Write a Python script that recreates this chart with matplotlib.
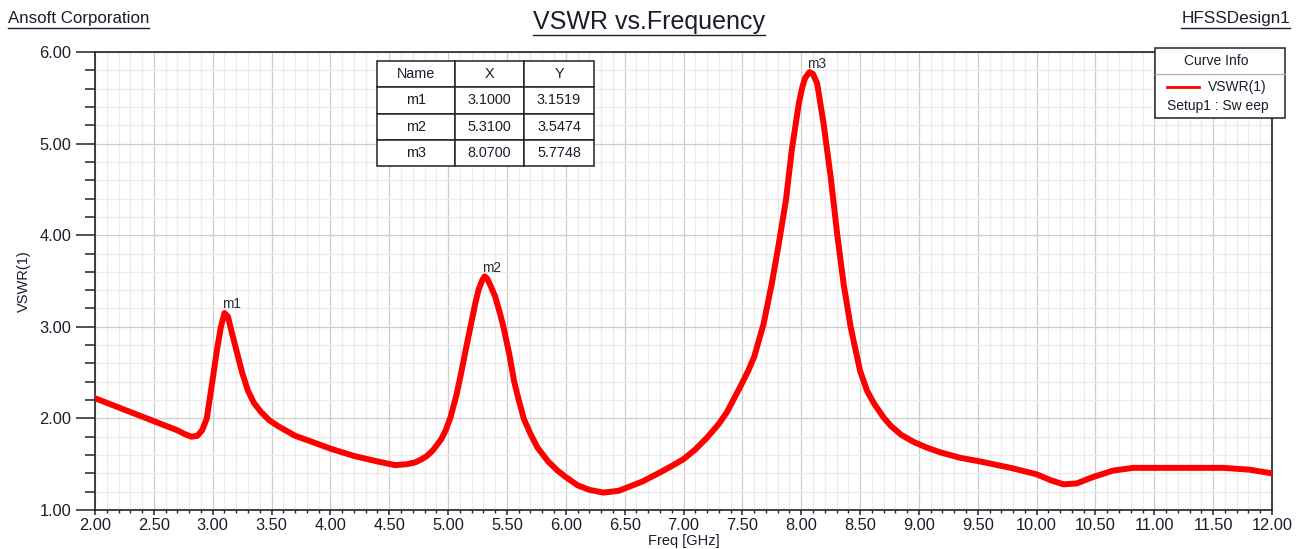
import matplotlib
matplotlib.use("Agg")
import matplotlib.pyplot as plt
from matplotlib.ticker import MultipleLocator, FormatStrFormatter
from matplotlib.patches import Rectangle
from matplotlib.lines import Line2D

plt.rcParams['font.family'] = ['Liberation Sans', 'DejaVu Sans']

# ---- data ----
freq = [2.00, 2.20, 2.40, 2.60, 2.70, 2.76, 2.82, 2.87, 2.91, 2.95, 3.00, 3.04, 3.07, 3.10,
        3.13, 3.16, 3.21, 3.25, 3.30, 3.35, 3.41, 3.48, 3.55, 3.70, 3.81, 4.00, 4.20, 4.40,
        4.55, 4.65, 4.72, 4.77, 4.82, 4.87, 4.94, 4.98, 5.02, 5.07, 5.11, 5.15, 5.19, 5.23,
        5.26, 5.29, 5.31, 5.33, 5.36, 5.40, 5.44, 5.47, 5.52, 5.56, 5.60, 5.645, 5.70, 5.76,
        5.85, 5.93, 6.00, 6.10, 6.20, 6.32, 6.45, 6.55, 6.65, 6.80, 6.90, 7.00, 7.10, 7.20,
        7.30, 7.37, 7.48, 7.55, 7.60, 7.68, 7.75, 7.81, 7.87, 7.92, 7.98, 8.01, 8.035, 8.07,
        8.10, 8.135, 8.19, 8.25, 8.305, 8.36, 8.42, 8.50, 8.56, 8.62, 8.70, 8.76, 8.85,
        8.96, 9.07, 9.18, 9.35, 9.52, 9.78, 10.00, 10.12, 10.23, 10.34, 10.48, 10.65, 10.82,
        11.11, 11.59, 11.81, 12.00]
vswr = [2.22, 2.12, 2.02, 1.92, 1.87, 1.83, 1.80, 1.81, 1.87, 2.00, 2.43, 2.78, 3.00, 3.15,
        3.11, 2.95, 2.70, 2.50, 2.30, 2.17, 2.07, 1.98, 1.92, 1.81, 1.76, 1.67, 1.59, 1.53,
        1.49, 1.50, 1.52, 1.55, 1.59, 1.65, 1.77, 1.87, 2.01, 2.25, 2.49, 2.75, 3.00, 3.25,
        3.41, 3.51, 3.55, 3.53, 3.45, 3.33, 3.15, 3.00, 2.70, 2.41, 2.20, 1.99, 1.83, 1.68,
        1.53, 1.43, 1.36, 1.27, 1.22, 1.19, 1.21, 1.26, 1.31, 1.41, 1.48, 1.555, 1.66, 1.79,
        1.94, 2.07, 2.34, 2.52, 2.67, 3.03, 3.47, 3.91, 4.38, 4.93, 5.44, 5.62, 5.72, 5.78,
        5.76, 5.66, 5.22, 4.64, 4.02, 3.47, 3.00, 2.52, 2.30, 2.16, 2.01, 1.92, 1.82,
        1.74, 1.68, 1.63, 1.57, 1.53, 1.46, 1.39, 1.325, 1.28, 1.29, 1.36, 1.43, 1.46,
        1.46, 1.46, 1.44, 1.40]

marker_names = ["m1", "m2", "m3"]
marker_x = [3.1000, 5.3100, 8.0700]
marker_y = [3.1519, 3.5474, 5.7748]

x_ticks = [2.0 + 0.5 * i for i in range(21)]
y_ticks = [1.0, 2.0, 3.0, 4.0, 5.0, 6.0]

W, H = 1302, 549
fig = plt.figure(figsize=(W / 100, H / 100), dpi=100)
L, R, T, B = 95, 1272, 52, 510
ax = fig.add_axes([L / W, 1 - B / H, (R - L) / W, (B - T) / H])

ax.plot(freq, vswr, color='#ff0000', lw=4.3, solid_capstyle='round', solid_joinstyle='round', zorder=3)

ax.set_xlim(2.0, 12.0)
ax.set_ylim(1.0, 6.0)
ax.set_xticks(x_ticks)
ax.set_yticks(y_ticks)
ax.xaxis.set_minor_locator(MultipleLocator(0.1))
ax.yaxis.set_minor_locator(MultipleLocator(0.2))
ax.xaxis.set_major_formatter(FormatStrFormatter('%.2f'))
ax.yaxis.set_major_formatter(FormatStrFormatter('%.2f'))

txtc = '#1c1c2c'
ax.tick_params(axis='y', which='major', length=14, width=1.1, direction='out', labelsize=11.8,
               pad=3, colors='#222222', labelcolor=txtc)
ax.tick_params(axis='y', which='minor', length=7, width=1.1, direction='out', colors='#222222')
ax.tick_params(axis='x', which='major', length=3.5, width=1.1, direction='out', labelsize=11.8,
               pad=2, colors='#222222', labelcolor=txtc)
ax.tick_params(axis='x', which='minor', length=2, width=1.0, direction='out', colors='#222222')

ax.grid(which='minor', color='#ebebeb', lw=0.9, zorder=0)
ax.grid(which='major', color='#cdcdcd', lw=0.9, zorder=0)
ax.set_axisbelow(True)
for s in ax.spines.values():
    s.set_linewidth(1.2)
    s.set_color('#222222')

ax.set_xlabel('Freq [GHz]', fontsize=10.5, color=txtc, labelpad=1)
ax.set_ylabel('VSWR(1)', fontsize=10.5, color=txtc, labelpad=6)

# marker labels
for n, mx, my in zip(marker_names, marker_x, marker_y):
    ax.annotate(n, (mx, my), xytext=(-2, 1), textcoords='offset points', fontsize=9.8,
                color='#2a2a3a', ha='left', va='bottom', zorder=5)

# marker table
rows = [[n, f"{x:.4f}", f"{y:.4f}"] for n, x, y in zip(marker_names, marker_x, marker_y)]
tbl = ax.table(cellText=rows, colLabels=['Name', 'X', 'Y'], cellLoc='center',
               colWidths=[78, 69, 70],
               bbox=[(377 - L) / (R - L), (B - 166) / (B - T), 217 / (R - L), 105 / (B - T)],
               zorder=6)
tbl.auto_set_font_size(False)
for (r, c), cell in tbl.get_celld().items():
    cell.set_linewidth(1.1)
    cell.set_edgecolor('#222222')
    cell.set_facecolor('white')
    cell.get_text().set_fontsize(10.4)
    cell.get_text().set_color(txtc)

# header texts
def fx(px):
    return px / W

def fy(py):
    return 1 - py / H

t1 = fig.text(fx(8), fy(19), 'Ansoft Corporation', fontsize=12.2, color=txtc, ha='left', va='center')
t2 = fig.text(fx(649), fy(22), 'VSWR vs.Frequency', fontsize=18, color=txtc, ha='center', va='center')
t3 = fig.text(fx(1290), fy(19), 'HFSSDesign1', fontsize=12.3, color=txtc, ha='right', va='center')

fig.canvas.draw()
rend = fig.canvas.get_renderer()
for t, off in ((t1, 9), (t2, 13), (t3, 9)):
    bb = t.get_window_extent(rend)
    yline = fig.transFigure.inverted().transform((0, (bb.y0 + bb.y1) / 2 - off))[1]
    x0 = bb.x0 / W
    x1 = bb.x1 / W
    fig.add_artist(Line2D([x0, x1], [yline, yline], transform=fig.transFigure,
                          color=txtc, lw=1.0))

# legend box (Curve Info)
bx0, by0, bx1, by1 = 1155, 48, 1285, 118
fig.add_artist(Rectangle((fx(bx0), fy(by1)), (bx1 - bx0) / W, (by1 - by0) / H,
                         transform=fig.transFigure, facecolor='white', edgecolor='#222222',
                         lw=1.1, zorder=10))
fig.add_artist(Line2D([fx(bx0), fx(bx1)], [fy(74), fy(74)], transform=fig.transFigure,
                      color='#b0b0b0', lw=0.9, zorder=11))
fig.text(fx(1216), fy(61), 'Curve Info', fontsize=10, color=txtc, ha='center', va='center', zorder=12)
fig.add_artist(Line2D([fx(1167), fx(1199)], [fy(87), fy(87)], transform=fig.transFigure,
                      color='#ff0000', lw=2.0, zorder=12))
fig.text(fx(1208), fy(87), 'VSWR(1)', fontsize=10, color=txtc, ha='left', va='center', zorder=12)
fig.text(fx(1218), fy(106), 'Setup1 : Sw eep', fontsize=10, color=txtc, ha='center', va='center', zorder=12)

fig.savefig('out.png', dpi=100, facecolor='white')
